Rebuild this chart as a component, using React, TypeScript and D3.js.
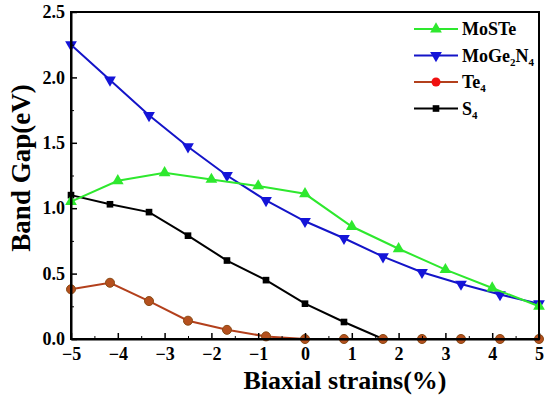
import * as d3 from 'd3';
import React, { useEffect, useRef } from 'react';

// strain values (%)
const strainFine = [-5, -4.167, -3.333, -2.5, -1.667, -0.833, 0, 0.833, 1.667, 2.5, 3.333, 4.167, 5];
const strainInt = [-5, -4, -3, -2, -1, 0, 1, 2, 3, 4, 5];

// band gaps (eV)
const moSTe = [1.05, 1.21, 1.27, 1.22, 1.17, 1.11, 0.86, 0.69, 0.53, 0.39, 0.25];
const moGe2N4 = [2.25, 1.98, 1.71, 1.47, 1.25, 1.06, 0.9, 0.77, 0.63, 0.51, 0.42, 0.34, 0.27];
const te4 = [0.38, 0.43, 0.29, 0.14, 0.07, 0.02, 0, 0, 0, 0, 0, 0, 0];
const s4 = [1.1, 1.03, 0.97, 0.79, 0.6, 0.45, 0.27, 0.13, 0, 0, 0, 0, 0];

const xTicks = [-5, -4, -3, -2, -1, 0, 1, 2, 3, 4, 5];
const yTicks = [0, 0.5, 1.0, 1.5, 2.0, 2.5];

const W = 550;
const H = 397;
const margin = { top: 12, right: 11, bottom: 58, left: 71 };
const FONT = '"Liberation Serif", "Times New Roman", serif';

type Series = {
  name: string;
  xs: number[];
  ys: number[];
  line: string;
  fill: string;
  marker: 'up' | 'down' | 'circle' | 'square';
};

const series: Series[] = [
  { name: 'S4', xs: strainFine, ys: s4, line: '#000', fill: '#000', marker: 'square' },
  { name: 'MoGe2N4', xs: strainFine, ys: moGe2N4, line: '#1414c8', fill: '#1414d8', marker: 'down' },
  { name: 'MoSTe', xs: strainInt, ys: moSTe, line: '#2ee82e', fill: '#2ee82e', marker: 'up' },
  { name: 'Te4', xs: strainFine, ys: te4, line: '#b3401c', fill: '#b5501e', marker: 'circle' },
];

function markerPath(m: Series['marker']) {
  if (m === 'circle') return d3.symbol(d3.symbolCircle, 64)();
  if (m === 'square') return d3.symbol(d3.symbolSquare, 44)();
  return d3.symbol(d3.symbolTriangle, 60)();
}

function App() {
  const svgRef = useRef<SVGSVGElement>(null);

  useEffect(() => {
    const svg = d3.select(svgRef.current);
    svg.selectAll('*').remove();
    const iw = W - margin.left - margin.right;
    const ih = H - margin.top - margin.bottom;

    const x = d3.scaleLinear().domain([-5, 5]).range([0, iw]);
    const y = d3.scaleLinear().domain([0, 2.5]).range([ih, 0]);

    const g = svg.append('g').attr('transform', `translate(${margin.left},${margin.top})`);

    // series
    series.forEach(s => {
      const pts = s.xs.map((v, i) => [v, s.ys[i]] as [number, number]);
      const lineGen = d3
        .line<[number, number]>()
        .x(d => x(d[0]))
        .y(d => y(d[1]));
      g.append('path')
        .attr('d', lineGen(pts))
        .attr('fill', 'none')
        .attr('stroke', s.line)
        .attr('stroke-width', 2);
      g.selectAll(null)
        .data(pts)
        .join('path')
        .attr('d', markerPath(s.marker))
        .attr('transform', d => `translate(${x(d[0])},${y(d[1])})${s.marker === 'down' ? ' rotate(180)' : ''}`)
        .attr('fill', s.fill)
        .attr('stroke', s.marker === 'circle' ? '#8a4a14' : 'none')
        .attr('stroke-width', 1);
    });

    // minor ticks
    const minorX = d3.range(-4.5, 5, 1);
    const minorY = d3.range(0.25, 2.5, 0.5);
    g.append('g')
      .attr('transform', `translate(0,${ih})`)
      .call(d3.axisBottom(x).tickValues(minorX).tickSizeInner(-3).tickSizeOuter(0).tickFormat(() => ''))
      .call(a => a.select('.domain').remove());
    g.append('g')
      .call(d3.axisLeft(y).tickValues(minorY).tickSizeInner(-3).tickSizeOuter(0).tickFormat(() => ''))
      .call(a => a.select('.domain').remove());

    // major axes
    const xAxis = g
      .append('g')
      .attr('transform', `translate(0,${ih})`)
      .call(d3.axisBottom(x).tickValues(xTicks).tickSizeInner(-6).tickSizeOuter(0).tickPadding(8).tickFormat(d3.format('d')));
    const yAxis = g
      .append('g')
      .call(d3.axisLeft(y).tickValues(yTicks).tickSizeInner(-6).tickSizeOuter(0).tickPadding(6).tickFormat(d3.format('.1f')));

    [xAxis, yAxis].forEach(a => {
      a.selectAll('line').attr('stroke', '#000').attr('stroke-width', 1.5);
      a.select('.domain').attr('stroke-width', 2);
      a.selectAll('text')
        .attr('font-family', FONT)
        .attr('font-weight', 'bold')
        .attr('font-size', 18)
        .attr('fill', '#000');
    });

    // frame
    g.append('rect')
      .attr('width', iw)
      .attr('height', ih)
      .attr('fill', 'none')
      .attr('stroke', '#000')
      .attr('stroke-width', 2);

    // axis titles
    svg
      .append('text')
      .attr('x', 345)
      .attr('y', 389)
      .attr('text-anchor', 'middle')
      .attr('font-family', FONT)
      .attr('font-weight', 'bold')
      .attr('font-size', 26)
      .text('Biaxial strains(%)');
    svg
      .append('text')
      .attr('transform', `translate(30,168) rotate(-90)`)
      .attr('text-anchor', 'middle')
      .attr('font-family', FONT)
      .attr('font-weight', 'bold')
      .attr('font-size', 27)
      .text('Band Gap(eV)');

    // legend
    const legendItems = [
      { s: series[2], label: ['MoSTe'] },
      { s: series[1], label: ['MoGe', '2', 'N', '4'] },
      { s: series[3], label: ['Te', '4'] },
      { s: series[0], label: ['S', '4'] },
    ];
    const lg = svg.append('g').attr('transform', 'translate(414,29)');
    legendItems.forEach((it, i) => {
      const row = lg.append('g').attr('transform', `translate(0,${i * 26.5})`);
      row.append('line').attr('x1', 0).attr('x2', 44).attr('stroke', it.s.line).attr('stroke-width', 2);
      row.append('path')
        .attr('d', markerPath(it.s.marker))
        .attr('transform', `translate(22,0)${it.s.marker === 'down' ? ' rotate(180)' : ''}`)
        .attr('fill', it.s.marker === 'circle' ? '#f01010' : it.s.fill);
      const t = row
        .append('text')
        .attr('x', 48)
        .attr('y', 6)
        .attr('font-family', FONT)
        .attr('font-weight', 'bold')
        .attr('font-size', 18);
      it.label.forEach((part, j) => {
        const sub = j % 2 === 1;
        t.append('tspan')
          .attr('font-size', sub ? 11 : 18)
          .attr('dy', sub ? 4 : j > 0 ? -4 : 0)
          .text(part);
      });
    });
  }, []);

  return (
    <div style={{ position: 'absolute', left: 0, top: 0 }}>
      <svg ref={svgRef} width={W} height={H} style={{ display: 'block', background: '#fff' }} />
    </div>
  );
}

export default App;
